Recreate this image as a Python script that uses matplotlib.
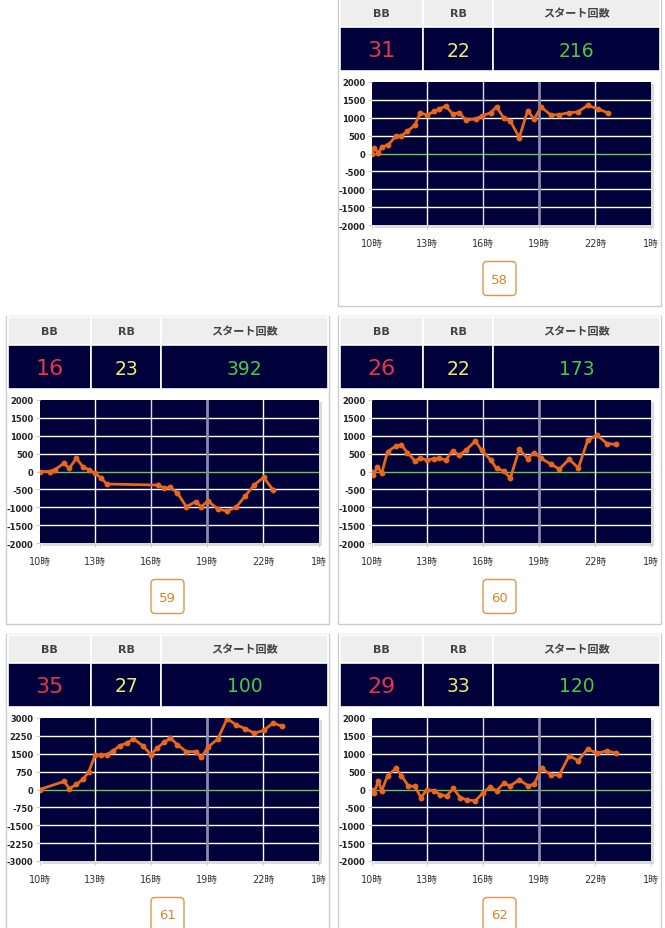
import matplotlib.pyplot as plt
from matplotlib.patches import Rectangle, FancyBboxPatch

plt.rcParams['font.family'] = ['DejaVu Sans', 'Noto Sans CJK JP']

# Machine numbers and counters
machine_nos = ['58', '59', '60', '61', '62']
bb_counts = [31, 16, 26, 35, 29]
rb_counts = [22, 23, 22, 27, 33]
start_counts = [216, 392, 173, 100, 120]

# x axis: hours of the day (10時 .. 1時 of next day)
hour_ticks = [10, 13, 16, 19, 22, 25]
hour_labels = ['10時', '13時', '16時', '19時', '22時', '1時']
yticks_2000 = [-2000, -1500, -1000, -500, 0, 500, 1000, 1500, 2000]
yticks_3000 = [-3000, -2250, -1500, -750, 0, 750, 1500, 2250, 3000]

# Difference graphs (hour, coins)
hours_58 = [10.0, 10.14, 10.36, 10.56, 10.9, 11.31, 11.61, 11.93, 12.33, 12.61, 12.97, 13.37,
            13.63, 13.99, 14.35, 14.71, 15.07, 15.6, 15.91, 16.39, 16.71, 17.09, 17.45,
            17.93, 18.38, 18.73, 19.09, 19.63, 20.08, 20.61, 21.06, 21.6, 22.14, 22.67]
diff_58 = [0, 160, 10, 185, 240, 490, 490, 630, 790, 1140, 1075, 1175, 1250, 1325, 1110,
           1140, 935, 970, 1045, 1140, 1305, 1000, 910, 445, 1200, 955, 1305, 1075, 1090,
           1140, 1160, 1345, 1250, 1140]

hours_59 = [10.0, 10.55, 10.85, 11.3, 11.6, 11.98, 12.33, 12.63, 12.99, 13.31, 13.61, 16.37,
            16.69, 17.03, 17.4, 17.88, 18.38, 18.68, 19.04, 19.57, 20.07, 20.55, 21.05,
            21.53, 22.03, 22.54]
diff_59 = [0, 0, 55, 230, 90, 370, 130, 55, -55, -185, -350, -380, -465, -445, -600, -985,
           -845, -985, -825, -1050, -1105, -1000, -680, -370, -165, -520]

hours_60 = [10.0, 10.1, 10.32, 10.55, 10.86, 11.31, 11.61, 11.93, 12.33, 12.61, 12.97, 13.37,
            13.63, 13.99, 14.35, 14.71, 15.07, 15.57, 15.91, 16.39, 16.71, 17.09, 17.45,
            17.93, 18.38, 18.73, 19.09, 19.63, 20.08, 20.61, 21.1, 21.6, 22.1, 22.64, 23.14]
diff_60 = [0, -95, 130, -45, 555, 715, 735, 530, 295, 370, 325, 360, 370, 325, 575, 455,
           595, 855, 595, 325, 85, 20, -185, 620, 360, 530, 370, 205, 65, 345, 95, 870,
           1020, 780, 760]

hours_61 = [10.0, 11.33, 11.6, 11.98, 12.33, 12.63, 12.99, 13.31, 13.61, 13.97, 14.32, 14.68,
            15.04, 15.53, 15.98, 16.32, 16.69, 17.03, 17.4, 17.88, 18.38, 18.68, 19.04,
            19.57, 20.07, 20.55, 21.05, 21.53, 22.03, 22.54, 23.04]
diff_61 = [0, 340, 40, 210, 435, 720, 1450, 1450, 1465, 1635, 1845, 1945, 2125, 1845, 1465,
           1745, 1985, 2155, 1885, 1590, 1590, 1350, 1775, 2125, 2970, 2715, 2550, 2365,
           2480, 2790, 2645]

hours_62 = [10.0, 10.14, 10.36, 10.55, 10.86, 11.31, 11.61, 11.97, 12.33, 12.65, 12.97, 13.37,
            13.69, 14.03, 14.39, 14.76, 15.12, 15.57, 15.96, 16.37, 16.71, 17.09, 17.45,
            17.93, 18.41, 18.73, 19.13, 19.63, 20.08, 20.61, 21.1, 21.6, 22.1, 22.64, 23.14]
diff_62 = [0, -85, 225, -35, 385, 590, 385, 105, 85, -225, -10, -35, -150, -180, 30, -225,
           -290, -320, -105, 75, -35, 170, 105, 270, 105, 150, 590, 410, 410, 945, 805, 1135,
           1010, 1085, 1010]

W, H = 665, 929
fig = plt.figure(figsize=(W / 100, H / 100), dpi=100)
bg = fig.add_axes([0, 0, 1, 1])
bg.set_xlim(0, W)
bg.set_ylim(H, 0)
bg.axis('off')


def fig_box(x0, y0, x1, y1):
    return [x0 / W, 1 - y1 / H, (x1 - x0) / W, (y1 - y0) / H]


def draw_panel(left, top, i, hours, diffs, yticks):
    # outer frame
    bg.add_patch(Rectangle((left, top - 1), 323, 308, fill=False, ec='#cccccc', lw=1))
    # header cells
    cols = [(left + 1.5, left + 85), (left + 85, left + 155), (left + 155, left + 322)]
    heads = ['BB', 'RB', 'スタート回数']
    vals = [bb_counts[i], rb_counts[i], start_counts[i]]
    colors = ['#e8344c', '#f0ec6a', '#44cc44']
    sizes = [16, 13.5, 13.5]
    for (x0, x1), h, v, c, s in zip(cols, heads, vals, colors, sizes):
        bg.add_patch(Rectangle((x0, top), x1 - x0, 28, fc='#eeeeee', ec='white', lw=1.2))
        bg.add_patch(Rectangle((x0, top + 28), x1 - x0, 44, fc='#00003a', ec='white', lw=1.2))
        bg.text((x0 + x1) / 2, top + 14, h, ha='center', va='center', fontsize=8,
                fontweight='bold', color='#444444')
        bg.text((x0 + x1) / 2, top + 51, str(v), ha='center', va='center', fontsize=s, color=c)

    # shadow behind the graph
    bg.add_patch(Rectangle((left + 35.5, top + 85), 280.5, 144, fc='#dcdcdc', ec='none'))

    ax = fig.add_axes(fig_box(left + 33.5, top + 83, left + 313, top + 226))
    ax.set_facecolor('#00003a')
    ax.set_xlim(10, 25)
    ax.set_ylim(yticks[0], yticks[-1])
    for y in yticks[1:-1]:
        ax.axhline(y, color='#66cc44' if y == 0 else 'white', lw=1, zorder=1)
    for h, c, w in zip(hour_ticks[1:-1], ['white', '#d8d8f0', '#8a8aaa', 'white'], [1, 1, 2, 1]):
        ax.axvline(h, color=c, lw=w, zorder=1)
    ax.plot(hours, diffs, color='#e8671c', lw=2, marker='o', ms=3.2, zorder=3)

    ax.set_xticks(hour_ticks)
    ax.set_xticklabels(hour_labels)
    ax.set_yticks(yticks)
    ax.set_yticklabels([str(v) for v in yticks])
    ax.tick_params(axis='x', length=3, color='#cccccc', labelsize=7, pad=6.5, labelcolor='#333333')
    ax.tick_params(axis='y', length=3, color='#cccccc', labelsize=6, pad=1.5, labelcolor='#222222')
    for lab in ax.get_yticklabels():
        lab.set_fontweight('bold')
    for sp in ax.spines.values():
        sp.set_visible(False)

    # page number button
    cx = left + 161.5
    bg.add_patch(FancyBboxPatch((cx - 15, top + 264), 30, 31, boxstyle='round,pad=1.5,rounding_size=4',
                                fc='white', ec='#e0954a', lw=1))
    bg.text(cx, top + 280, machine_nos[i], ha='center', va='center', fontsize=9.5, color='#d9822b')


draw_panel(338, 0, 0, hours_58, diff_58, yticks_2000)
draw_panel(6, 318, 1, hours_59, diff_59, yticks_2000)
draw_panel(338, 318, 2, hours_60, diff_60, yticks_2000)
draw_panel(6, 636, 3, hours_61, diff_61, yticks_3000)
draw_panel(338, 636, 4, hours_62, diff_62, yticks_2000)

fig.savefig('out.png', dpi=100, facecolor='white')
